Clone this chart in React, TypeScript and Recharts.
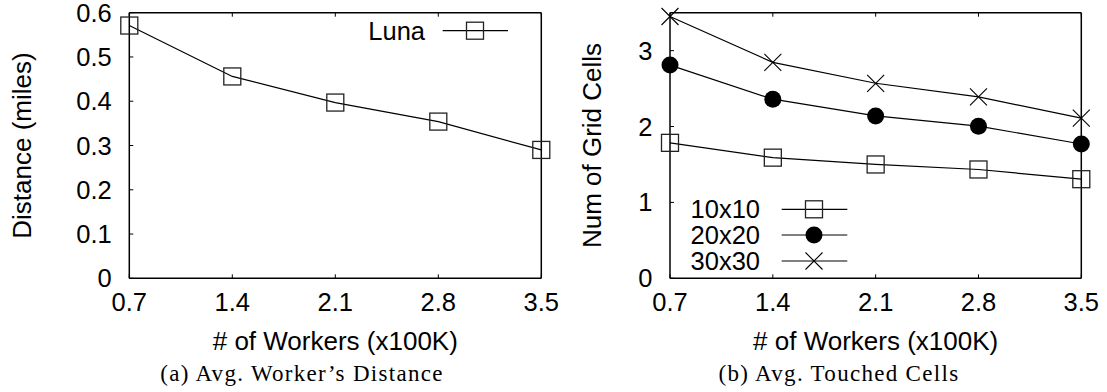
import React from "react";
import { LineChart, Line, XAxis, YAxis, Label } from "recharts";

// values
const workers = [0.7, 1.4, 2.1, 2.8, 3.5];
const lunaDistance = [0.571, 0.456, 0.397, 0.354, 0.29];
const cells10 = [1.785, 1.59, 1.5, 1.434, 1.306];
const cells20 = [2.81, 2.36, 2.14, 2.005, 1.77];
const cells30 = [3.45, 2.845, 2.57, 2.39, 2.11];
const distanceTicks = [0, 0.1, 0.2, 0.3, 0.4, 0.5, 0.6];
const cellTicks = [0, 1, 2, 3];
const gridNames = ["10x10", "20x20", "30x30"];

const SANS = '"Liberation Sans", Arial, sans-serif';
const SERIF = '"Liberation Serif", "Times New Roman", serif';
const FS = 25.5;
const TICK = -4;

const distanceData = workers.map((w, i) => ({ workers: w, luna: lunaDistance[i] }));
const cellData = workers.map((w, i) => ({
  workers: w,
  g10: cells10[i],
  g20: cells20[i],
  g30: cells30[i],
}));

type Mark = "square" | "disc" | "cross";

function Marker({ kind, cx, cy }: { kind: Mark; cx: number; cy: number }) {
  if (kind === "square")
    return (
      <rect x={cx - 8.5} y={cy - 8.5} width={17} height={17} fill="none" stroke="#222" strokeWidth={1.3} />
    );
  if (kind === "disc") return <circle cx={cx} cy={cy} r={8.5} fill="#000" />;
  return (
    <path
      d={`M${cx - 8.5} ${cy - 8.5}L${cx + 8.5} ${cy + 8.5}M${cx - 8.5} ${cy + 8.5}L${cx + 8.5} ${cy - 8.5}`}
      stroke="#000"
      strokeWidth={1.1}
      fill="none"
    />
  );
}

const dotOf = (kind: Mark) => (p: any) =>
  <Marker key={`${kind}-${p.index}`} kind={kind} cx={p.cx} cy={p.cy} />;

const title =
  (text: string, dx: number, dy: number, vertical: boolean) => (props: any) => {
    const vb = props.viewBox || { x: 0, y: 0, width: 0, height: 0 };
    const cx = vb.x + vb.width / 2 + dx;
    const cy = vb.y + vb.height / 2 + dy;
    return (
      <text
        x={cx}
        y={cy}
        textAnchor="middle"
        dominantBaseline="central"
        transform={vertical ? `rotate(-90 ${cx} ${cy})` : undefined}
        fill="#000"
        fontSize={26}
        fontFamily={SANS}
      >
        {text}
      </text>
    );
  };

const tickStyle = { fill: "#000", fontSize: FS, fontFamily: SANS };
const axisLine = { stroke: "#000", strokeWidth: 1.5 };
const tickLine = { stroke: "#000", strokeWidth: 1 };
const blank = () => "";

// gnuplot-style frame: four axes, ticks pointing inward
function Frame({ yDomain, yTicks, yFmt, yTitle, yTitleDx }: any) {
  return [
    <XAxis
      key="xb"
      xAxisId="b"
      type="number"
      dataKey="workers"
      domain={[0.7, 3.5]}
      ticks={workers}
      height={1}
      tickSize={TICK}
      tickMargin={19}
      tick={tickStyle}
      axisLine={axisLine}
      tickLine={tickLine}
      tickFormatter={(v: number) => v.toFixed(1)}
      interval={0}
    >
      <Label content={title("# of Workers (x100K)", 0, 62.5, false)} />
    </XAxis>,
    <XAxis
      key="xt"
      xAxisId="t"
      orientation="top"
      type="number"
      dataKey="workers"
      domain={[0.7, 3.5]}
      ticks={workers}
      height={1}
      tickSize={TICK}
      axisLine={axisLine}
      tickLine={tickLine}
      tickFormatter={blank}
      interval={0}
    />,
    <YAxis
      key="yl"
      yAxisId="l"
      type="number"
      domain={yDomain}
      ticks={yTicks}
      width={1}
      tickSize={TICK}
      tickMargin={21.5}
      tick={tickStyle}
      axisLine={axisLine}
      tickLine={tickLine}
      tickFormatter={yFmt}
      interval={0}
    >
      <Label content={title(yTitle, yTitleDx, 0, true)} />
    </YAxis>,
    <YAxis
      key="yr"
      yAxisId="r"
      orientation="right"
      type="number"
      domain={yDomain}
      ticks={yTicks}
      width={1}
      tickSize={TICK}
      axisLine={axisLine}
      tickLine={tickLine}
      tickFormatter={blank}
      interval={0}
    />,
  ];
}

function LegendRow({ label, kind, y, textEnd, x1, x2, mx }: any) {
  return (
    <g>
      <text x={textEnd} y={y} textAnchor="end" dominantBaseline="central" fontSize={FS} fontFamily={SANS} fill="#000">
        {label}
      </text>
      <line x1={x1} x2={x2} y1={y} y2={y} stroke="#000" strokeWidth={1.2} />
      <Marker kind={kind} cx={mx} cy={y} />
    </g>
  );
}

const captionStyle: React.CSSProperties = {
  position: "absolute",
  width: 400,
  top: 362,
  textAlign: "center",
  fontFamily: SERIF,
  fontSize: 23,
  lineHeight: "23px",
  letterSpacing: 1.3,
  whiteSpace: "nowrap",
};

export default function App() {
  const marks: Mark[] = ["square", "disc", "cross"];
  const keys = ["g10", "g20", "g30"];
  const rowY = [209.3, 235, 261];
  return (
    <div style={{ position: "fixed", left: 0, top: 0, width: 1107, height: 392, background: "#fff" }}>
      <div style={{ position: "absolute", left: 0, top: 0 }}>
        <LineChart width={580} height={392} data={distanceData} margin={{ top: 11.7, right: 37.7, bottom: 112.7, left: 128.3 }}>
          {Frame({
            yDomain: [0, 0.6],
            yTicks: distanceTicks,
            yFmt: (v: number) => (v === 0 ? "0" : v.toFixed(1)),
            yTitle: "Distance (miles)",
            yTitleDx: -107.3,
          })}
          <Line
            xAxisId="b"
            yAxisId="l"
            type="linear"
            dataKey="luna"
            stroke="#000"
            strokeWidth={1.2}
            dot={dotOf("square")}
            isAnimationActive={false}
          />
        </LineChart>
      </div>
      <div style={{ position: "absolute", left: 553, top: 0 }}>
        <LineChart width={554} height={392} data={cellData} margin={{ top: 11.7, right: 24.7, bottom: 112.7, left: 116 }}>
          {Frame({
            yDomain: [0, 3.5],
            yTicks: cellTicks,
            yFmt: (v: number) => String(v),
            yTitle: "Num of Grid Cells",
            yTitleDx: -77.5,
          })}
          {keys.map((k, i) => (
            <Line
              key={k}
              xAxisId="b"
              yAxisId="l"
              type="linear"
              dataKey={k}
              stroke="#000"
              strokeWidth={1.2}
              dot={dotOf(marks[i])}
              isAnimationActive={false}
            />
          ))}
        </LineChart>
      </div>
      <svg width={1107} height={392} style={{ position: "absolute", left: 0, top: 0, pointerEvents: "none" }}>
        <LegendRow label="Luna" kind="square" y={30.7} textEnd={425} x1={442.7} x2={508} mx={475} />
        {gridNames.map((n, i) => (
          <LegendRow key={n} label={n} kind={marks[i]} y={rowY[i]} textEnd={760} x1={781.7} x2={847.3} mx={814} />
        ))}
      </svg>
      <div style={{ ...captionStyle, left: 102 }}>(a) Avg. Worker’s Distance</div>
      <div style={{ ...captionStyle, left: 639 }}>(b) Avg. Touched Cells</div>
    </div>
  );
}
